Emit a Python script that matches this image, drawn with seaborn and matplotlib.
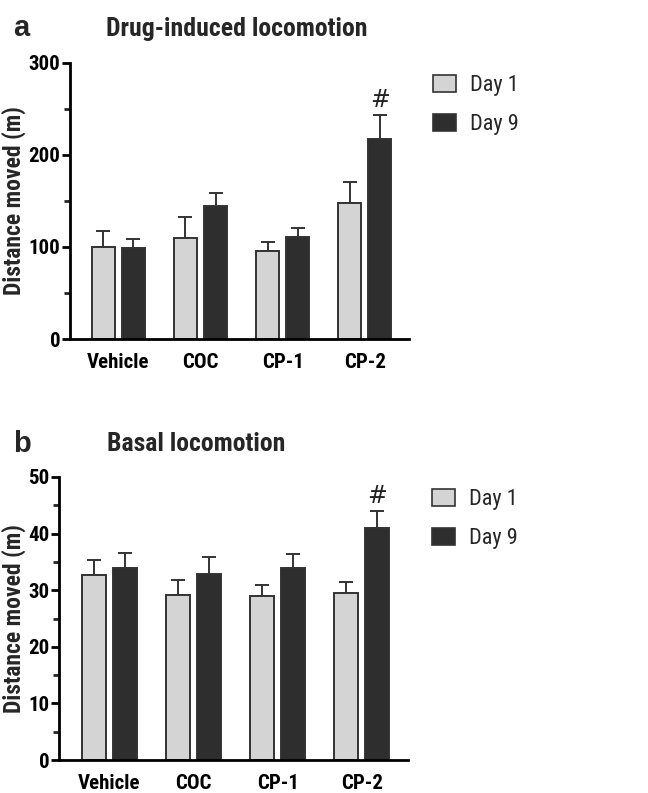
import matplotlib
matplotlib.use("Agg")
import matplotlib.pyplot as plt
import seaborn as sns
import pandas as pd
from matplotlib.patches import Patch
from matplotlib.ticker import MultipleLocator
from matplotlib import font_manager

groups = ["Vehicle", "COC", "CP-1", "CP-2"]
days = ["Day 1", "Day 9"]

drug_day1 = [100.2, 110.0, 95.5, 148.2]
drug_day9 = [99.1, 144.6, 110.8, 217.5]
drug_err1 = [17.1, 22.6, 9.8, 22.5]
drug_err9 = [9.2, 13.8, 9.8, 26.5]

basal_day1 = [32.7, 29.2, 28.9, 29.5]
basal_day9 = [33.9, 32.9, 33.9, 41.0]
basal_err1 = [2.6, 2.6, 2.0, 1.9]
basal_err9 = [2.7, 2.9, 2.5, 3.0]

sns.set_style("ticks")

# prefer a narrow sans font if one is installed
names = {f.name for f in font_manager.fontManager.ttflist}
narrow = None
for cand in ["Liberation Sans Narrow", "Arial Narrow", "Roboto Condensed",
             "Open Sans Condensed", "DejaVu Sans Condensed"]:
    if cand in names:
        narrow = cand
        break
fams = ([narrow] if narrow else []) + ['Liberation Sans', 'DejaVu Sans']
plt.rcParams['font.family'] = fams
scale = 1.0 if narrow else 0.93

colors = {"Day 1": "#d4d4d4", "Day 9": "#2e2e2e"}
edge = "#333333"

fig = plt.figure(figsize=(6.48, 7.93), dpi=100)
ax_a = fig.add_axes([70/648, 1-339/793, 339/648, 276/793])
ax_b = fig.add_axes([59/648, 1-760/793, 349/648, 283/793])


def panel(ax, d1, d9, e1, e9, ymax, major, minor, xlim, width, gap, hash_off, ylab_x, leg_x):
    df = pd.DataFrame({
        "group": groups * 2,
        "day": [days[0]] * 4 + [days[1]] * 4,
        "value": list(d1) + list(d9),
    })
    sns.barplot(data=df, x="group", y="value", hue="day", order=groups,
                hue_order=days, palette=colors, errorbar=None, width=width,
                gap=gap, edgecolor=edge, linewidth=1.4, ax=ax, legend=False,
                saturation=1)
    errs = list(e1) + list(e9)
    vals = list(d1) + list(d9)
    patches = [p for p in ax.patches][:8]
    for p, v, e in zip(patches, vals, errs):
        xc = p.get_x() + p.get_width() / 2
        ax.errorbar([xc], [v], yerr=[[0], [e]], fmt="none", ecolor=edge,
                    elinewidth=1.4, capsize=5, capthick=1.4, zorder=0.5)
    p = patches[7]
    xc = p.get_x() + p.get_width() / 2
    ax.text(xc, vals[7] + errs[7] + hash_off, "#", ha="center", va="bottom",
            fontsize=17, color="#222222", family="DejaVu Sans")
    ax.set_ylim(0, ymax)
    ax.set_xlim(*xlim)
    ax.yaxis.set_major_locator(MultipleLocator(major))
    ax.yaxis.set_minor_locator(MultipleLocator(minor))
    sns.despine(ax=ax)
    for s in ["left", "bottom"]:
        ax.spines[s].set_linewidth(2.0)
        ax.spines[s].set_color("black")
    ax.tick_params(axis="y", which="major", length=6, width=2.0,
                   labelsize=15 * scale, pad=1, colors="black")
    ax.tick_params(axis="y", which="minor", length=4, width=2.0)
    ax.tick_params(axis="x", length=0, labelsize=15 * scale, pad=10, colors="black")
    for t in ax.get_xticklabels() + ax.get_yticklabels():
        t.set_fontweight("bold")
    ax.set_xlabel("")
    ax.set_ylabel("Distance moved (m)", fontsize=17 * scale, fontweight="bold")
    ax.yaxis.set_label_coords(ylab_x, 0.5)
    handles = [Patch(facecolor=colors[d], edgecolor=edge, linewidth=1.2, label=d) for d in days]
    ax.legend(handles=handles, loc="upper left", bbox_to_anchor=(leg_x, 0.99),
              frameon=False, fontsize=16 * scale, handlelength=1.05, handleheight=0.8,
              handletextpad=0.6, labelspacing=0.8, borderaxespad=0)


panel(ax_a, drug_day1, drug_day9, drug_err1, drug_err9, 300, 100, 50,
      (-0.59, 3.54), 0.732, 0.235, 3, (26 - 70) / 339, 1.045)
panel(ax_b, basal_day1, basal_day9, basal_err1, basal_err9, 50, 10, 5,
      (-0.60, 3.55), 0.738, 0.225, 0.45, (26 - 59) / 349, 1.043)

fig.text(13/648, 1-28/793, "a", fontsize=21, fontweight="bold", va="center", ha="left",
         family=["Liberation Sans", "DejaVu Sans"])
fig.text(237/648, 1-29/793, "Drug-induced locomotion", fontsize=18.5 * scale, fontweight="bold",
         va="center", ha="center")
fig.text(13/648, 1-444/793, "b", fontsize=21, fontweight="bold", va="center", ha="left",
         family=["Liberation Sans", "DejaVu Sans"])
fig.text(196/648, 1-444/793, "Basal locomotion", fontsize=18.5 * scale, fontweight="bold",
         va="center", ha="center")

fig.savefig("out.png", dpi=100)
